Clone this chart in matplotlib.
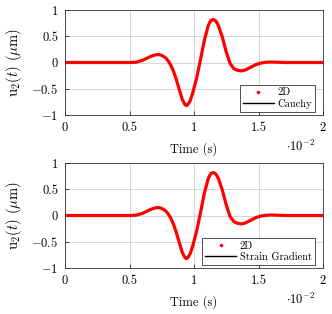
import matplotlib
matplotlib.use('Agg')
from matplotlib import pyplot as plt
from matplotlib.lines import Line2D

plt.rcParams['font.family'] = 'serif'
plt.rcParams['font.serif'] = ['cmr10']
plt.rcParams['mathtext.fontset'] = 'cm'
plt.rcParams['axes.formatter.use_mathtext'] = True

# time in units of 1e-2 s, displacement in micrometres
time = [0, 0.45, 0.5, 0.55, 0.6, 0.65, 0.68, 0.71, 0.73, 0.75, 0.78, 0.8, 0.82,
        0.84, 0.86, 0.89, 0.91, 0.93, 0.94, 0.95, 0.97, 0.99, 1.02, 1.05, 1.08,
        1.11, 1.13, 1.15, 1.17, 1.19, 1.22, 1.25, 1.28, 1.31, 1.34, 1.37, 1.4,
        1.44, 1.48, 1.52, 1.56, 1.6, 1.65, 1.7, 2.0]
u2 = [0, 0, 0, 0.005, 0.04, 0.1, 0.13, 0.15, 0.15, 0.135, 0.09, 0.03, -0.05,
      -0.16, -0.3, -0.55, -0.71, -0.8, -0.82, -0.81, -0.73, -0.58, -0.3, 0.05,
      0.42, 0.7, 0.8, 0.82, 0.79, 0.7, 0.48, 0.2, -0.02, -0.12, -0.15, -0.16,
      -0.14, -0.09, -0.04, -0.01, 0.005, 0.01, 0.005, 0, 0]

xticks = [0, 0.5, 1, 1.5, 2]
xlabels = ['0', '0.5', '1', '1.5', '2']
yticks = [-1, -0.5, 0, 0.5, 1]
ylabels = ['$-1$', '$-0.5$', '0', '0.5', '1']
legend_names = ['Cauchy', 'Strain Gradient']

fig = plt.figure(figsize=(3.32, 3.14), dpi=100)
W, H = 332, 314
boxes = [(65, 10, 323, 115), (65, 163, 323, 268)]

for (l, t, r, b), name in zip(boxes, legend_names):
    ax = fig.add_axes([l / W, 1 - b / H, (r - l) / W, (b - t) / H])
    ax.plot(time, u2, color='black', lw=1.0)
    ax.plot(time, u2, color='red', lw=2.3, solid_joinstyle='round')
    ax.set_xlim(0, 2)
    ax.set_ylim(-1, 1)
    ax.set_xticks(xticks)
    ax.set_xticklabels(xlabels)
    ax.set_yticks(yticks)
    ax.set_yticklabels(ylabels)
    ax.tick_params(direction='in', length=3, labelsize=9, width=0.5, pad=5)
    ax.grid(True, color='#d0d0d0', lw=0.6)
    for s in ax.spines.values():
        s.set_linewidth(0.6)
        s.set_color('#333333')
    ax.set_xlabel('Time (s)', fontsize=9, labelpad=6)
    ax.set_ylabel(r'u$_2(t)$ ($\mu$m)', fontsize=10.5, labelpad=5)
    ax.text(0.969, -0.30, r'$\cdot 10^{-2}$', transform=ax.transAxes,
            ha='right', va='center', fontsize=9)
    handles = [Line2D([], [], color='red', marker='.', ls='none', markersize=3),
               Line2D([], [], color='black', lw=1.0)]
    leg = ax.legend(handles, ['2D', name], loc='lower right', fontsize=7.5,
                    fancybox=False, edgecolor='#333333', framealpha=1,
                    borderaxespad=0.3, handlelength=3.0, handletextpad=0.3,
                    labelspacing=0.15, borderpad=0.3,
                    bbox_to_anchor=(0.98, 0.0))
    leg.get_frame().set_linewidth(0.6)

fig.savefig('out.png', dpi=100)
